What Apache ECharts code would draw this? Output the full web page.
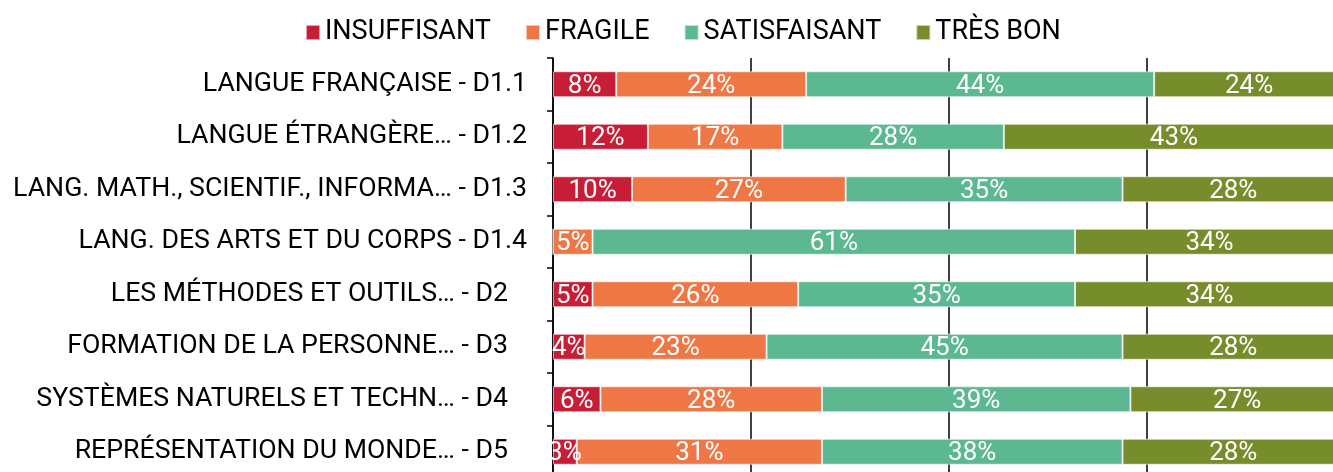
<!DOCTYPE html>
<html lang="fr">
<head>
    <meta charset="UTF-8">
    <title>Répartition par domaine</title>
    <script src="https://cdn.jsdelivr.net/npm/echarts@6.0.0/dist/echarts.min.js"></script>
    <style>
        * { margin: 0; padding: 0; box-sizing: border-box; }
        html, body { background: #fff; overflow: hidden; width: 1333px; height: 472px; }
        /* the original graphic is cropped on the right and bottom */
        #chart { width: 1344px; height: 478px; }
    </style>
</head>
<body>
    <div id="chart"></div>

    <script>
        const domains = [
            'LANGUE FRANÇAISE - D1.1',
            'LANGUE ÉTRANGÈRE… - D1.2',
            'LANG. MATH., SCIENTIF., INFORMA… - D1.3',
            'LANG. DES ARTS ET DU CORPS - D1.4',
            'LES MÉTHODES ET OUTILS… - D2',
            'FORMATION DE LA PERSONNE… - D3',
            'SYSTÈMES NATURELS ET TECHN… - D4',
            'REPRÉSENTATION DU MONDE… - D5'
        ];

        const insuffisant  = [8, 12, 10, 0, 5, 4, 6, 3];
        const fragile      = [24, 17, 27, 5, 26, 23, 28, 31];
        const satisfaisant = [44, 28, 35, 61, 35, 45, 39, 38];
        const tresBon      = [24, 43, 28, 34, 34, 28, 27, 28];

        const chart = echarts.init(document.getElementById('chart'));

        function makeSeries(name, data, color) {
            return {
                name: name,
                type: 'bar',
                stack: 'total',
                data: data,
                barWidth: 26,
                itemStyle: { color: color, borderColor: 'rgba(255,255,255,0.6)', borderWidth: 1 },
                label: {
                    show: true,
                    color: '#fff',
                    fontSize: 26,
                    fontFamily: 'Roboto',
                    offset: [0, 2],
                    formatter: p => p.value > 0 ? p.value + '%' : ''
                }
            };
        }

        chart.setOption({
            textStyle: { fontFamily: 'Roboto' },
            animation: false,
            legend: {
                top: 14,
                left: 300,
                itemWidth: 14,
                itemHeight: 15,
                itemGap: 34,
                icon: 'rect',
                textStyle: { fontSize: 27, color: '#000', fontFamily: 'Roboto' },
                data: ['INSUFFISANT', 'FRAGILE', 'SATISFAISANT', 'TRÈS BON']
            },
            grid: { left: 553, right: 0, top: 58, bottom: 0 },
            xAxis: {
                type: 'value',
                min: 0,
                max: 100,
                interval: 25,
                axisLabel: { show: false },
                axisLine: { show: false },
                axisTick: { show: false },
                splitLine: { lineStyle: { color: '#000', width: 1.5 } }
            },
            yAxis: {
                type: 'category',
                inverse: true,
                data: domains,
                axisLine: { show: true, lineStyle: { color: '#000', width: 1.5 } },
                axisTick: { show: true, length: 6, lineStyle: { color: '#000', width: 1.5 } },
                axisLabel: {
                    color: '#000',
                    fontSize: 26.7,
                    margin: 26,
                    formatter: v => /- D\d$/.test(v) ? '{s|' + v + '}' : v,
                    rich: { s: { fontSize: 26.7, color: '#000', padding: [0, 19, 0, 0] } }
                }
            },
            series: [
                makeSeries('INSUFFISANT', insuffisant, '#C81D36'),
                makeSeries('FRAGILE', fragile, '#EE7745'),
                makeSeries('SATISFAISANT', satisfaisant, '#5BB890'),
                makeSeries('TRÈS BON', tresBon, '#778C2B')
            ]
        });

        window.addEventListener('resize', () => chart.resize());
    </script>
</body>
</html>
